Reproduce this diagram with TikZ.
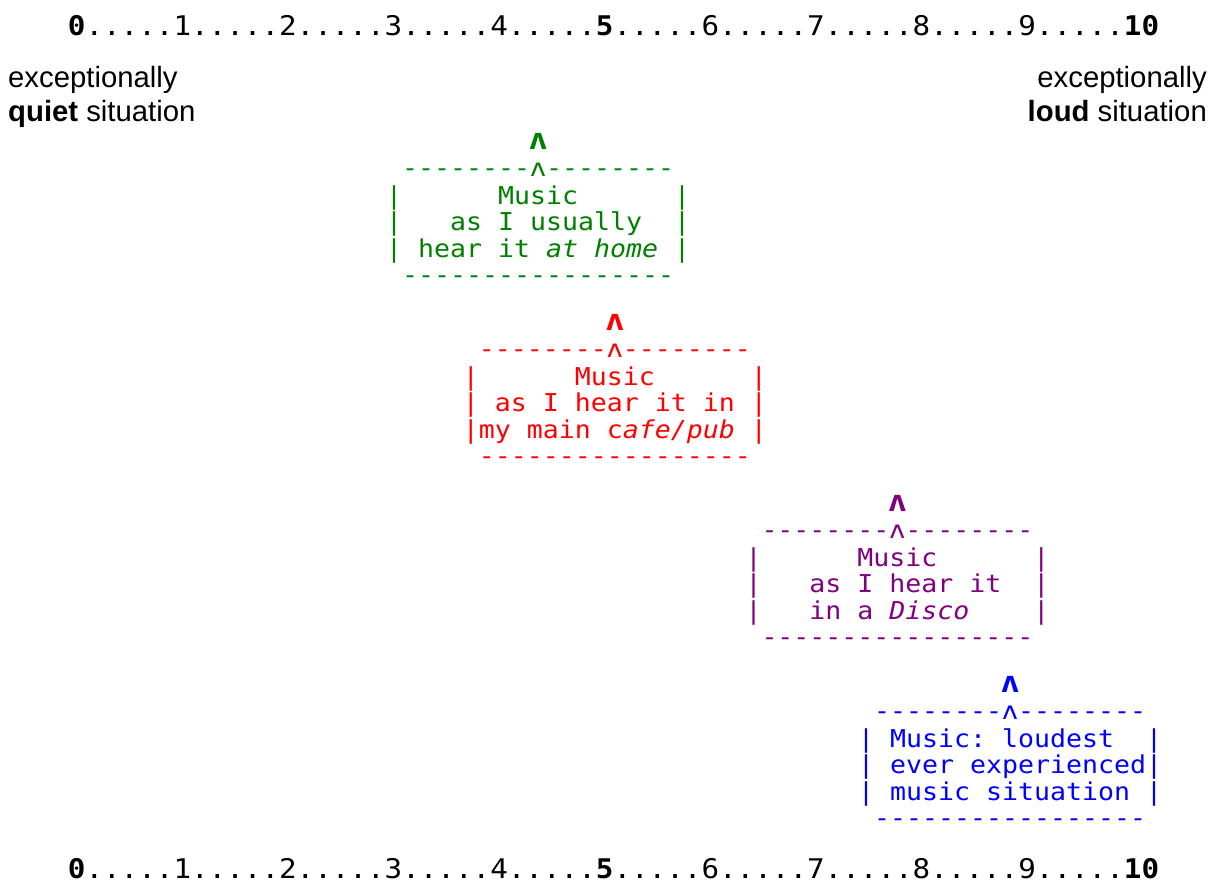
\documentclass[tikz,border=0pt]{standalone}
\usepackage{fontspec}
\setmainfont{Liberation Sans}
\setmonofont{DejaVu Sans Mono}[FakeStretch=1.08]
\definecolor{cgreen}{RGB}{0,128,0}
\definecolor{cred}{RGB}{255,0,0}
\definecolor{cpurple}{RGB}{128,0,128}
\definecolor{cblue}{RGB}{0,0,255}
\tikzset{
  lbl/.style={inner sep=0pt, font=\fontsize{29.3}{34}\selectfont},
  rulerline/.style={inner sep=0pt, anchor=base west, font=\ttfamily\fontsize{27.07}{30}\selectfont},
  boxline/.style={inner sep=0pt, anchor=base west, font=\ttfamily\fontsize{24.6}{26.5}\selectfont},
}
\newcommand\bigtip{\ooalign{\hphantom{x}\cr\hidewidth{\fontsize{29.5}{30}\selectfont\textbf{ʌ}}\hidewidth\cr}}
% name, left x, baseline y of first text row, colour, three text rows
\newcommand\asciibox[7]{%
  \node[boxline,text=#4] (#1-tip) at (#2,#3-55) {~~~~~~~~~\bigtip};
  \node[boxline,text=#4] (#1-top) at (#2,#3-28) {~--------ʌ--------};
  \node[boxline,text=#4] (#1-l1) at (#2,#3) {#5};
  \node[boxline,text=#4] (#1-l2) at (#2,#3+26.5) {#6};
  \node[boxline,text=#4] (#1-l3) at (#2,#3+53) {#7};
  \node[boxline,text=#4] (#1-bot) at (#2,#3+79.5) {~-----------------};
}
\begin{document}
\def~{\hphantom{x}}%
\begin{tikzpicture}[x=1pt,y=-1pt]
  \useasboundingbox[fill=white] (0,0) rectangle (1221,886);
  % rulers
  \node[rulerline] (rtop) at (67.7,35) {\textbf{0}.....1.....2.....3.....4.....\textbf{5}.....6.....7.....8.....9.....\textbf{10}};
  \node[rulerline] (rbot) at (67.7,878) {\textbf{0}.....1.....2.....3.....4.....\textbf{5}.....6.....7.....8.....9.....\textbf{10}};
  % end labels
  \node[lbl, anchor=base west] (quiet1) at (8,87) {exceptionally};
  \node[lbl, anchor=base west] (quiet2) at (8,121) {\textbf{quiet} situation};
  \node[lbl, anchor=base east] (loud1) at (1207,87) {exceptionally};
  \node[lbl, anchor=base east] (loud2) at (1207,121) {\textbf{loud} situation};
  % boxes
  \asciibox{home}{386}{204}{cgreen}
    {|~~~~~~Music~~~~~~|}
    {|~~~as~I~usually~~|}
    {|~hear~it~\textit{at~home}~|}
  \asciibox{pub}{462.7}{385}{cred}
    {|~~~~~~Music~~~~~~|}
    {|~as~I~hear~it~in~|}
    {|my~main~c\textit{afe/pub}~|}
  \asciibox{disco}{745.3}{566}{cpurple}
    {|~~~~~~Music~~~~~~|}
    {|~~~as~I~hear~it~~|}
    {|~~~in~a~\textit{Disco}~~~~|}
  \asciibox{loudest}{858}{747}{cblue}
    {|~Music:~loudest~~|}
    {|~ever~experienced|}
    {|~music~situation~|}
\end{tikzpicture}
\end{document}
